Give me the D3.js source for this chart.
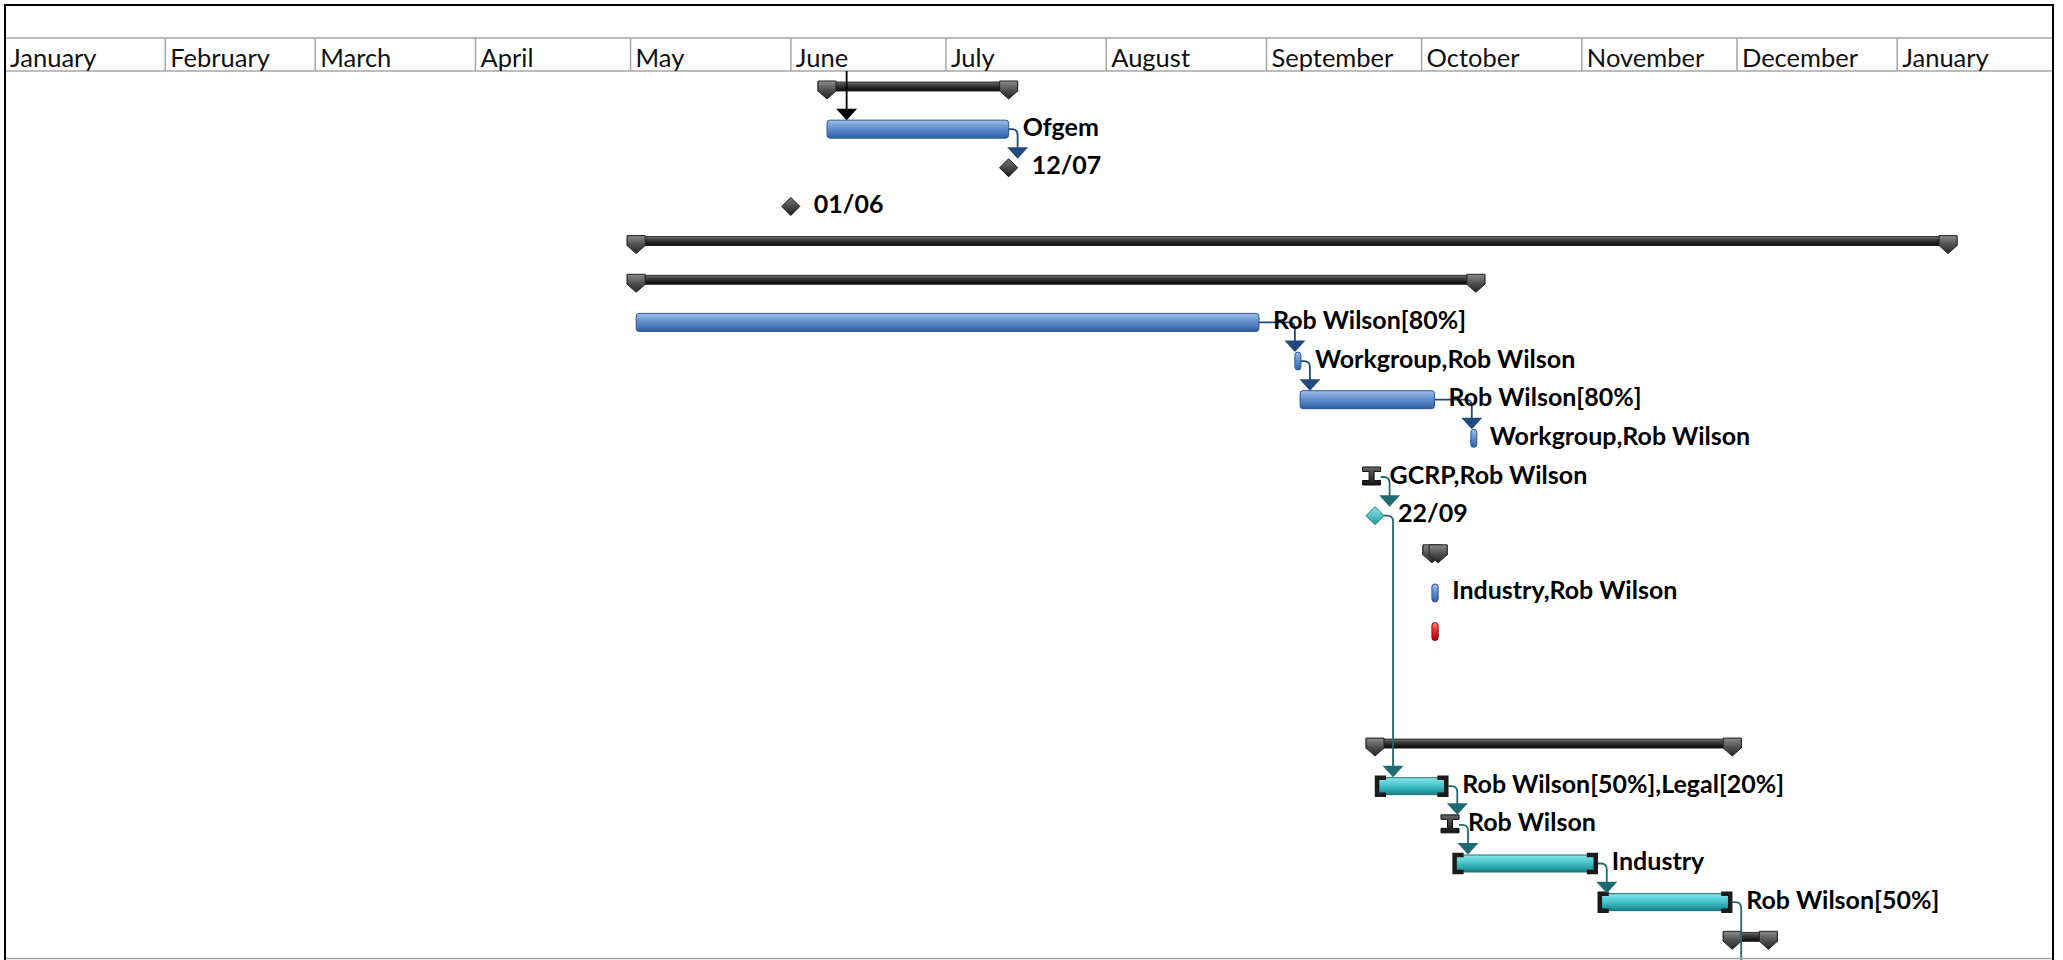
<!DOCTYPE html>
<html lang="en">
<head>
<meta charset="UTF-8">
<title>Project Gantt</title>
<script src="https://d3js.org/d3.v7.min.js"></script>
<style>
  body { margin: 0; background: #fff; }
  svg { display: block; }
  text { font-family: Lato, "Open Sans", sans-serif; }
</style>
</head>
<body>
<svg width="2063" height="960"></svg>
<script>
// month tier of the timescale (top tier is left blank)
const monthLabels = ["January","February","March","April","May","June","July","August",
                     "September","October","November","December","January"];
const monthStarts = ["2016-01-01","2016-02-01","2016-03-01","2016-04-01","2016-05-01","2016-06-01",
                     "2016-07-01","2016-08-01","2016-09-01","2016-10-01","2016-11-01","2016-12-01","2017-01-01"];

// one entry per row of the gantt
const taskKind  = ["summary","task","milestone","milestone","summary","summary","task","task","task","task",
                   "ibeam","milestone","summary","task","task",null,null,"summary","manual","ibeam","manual","manual","summary"];
const taskColor = [null,"blue","dark","dark",null,null,"blue","blue","blue","blue",
                   "teal","teal",null,"blue","red",null,null,null,"teal","teal","teal","teal",null];
const taskStart = ["2016-06-08T00:00","2016-06-08T00:00","2016-07-13T03:00","2016-06-01T00:00","2016-05-02T02:00",
                   "2016-05-02T02:00","2016-05-02T02:00","2016-09-06T12:00","2016-09-07T12:00","2016-10-10T17:00",
                   "2016-09-21T08:00","2016-09-22T00:00","2016-10-03T00:00","2016-10-03T00:00","2016-10-03T00:00",
                   null,null,"2016-09-22T00:00","2016-09-22T00:00","2016-10-06T12:00","2016-10-07T00:00",
                   "2016-11-04T02:00","2016-11-30T02:00"];
const taskEnd   = ["2016-07-13T03:00","2016-07-13T03:00","2016-07-13T03:00","2016-06-01T00:00","2017-01-10T20:00",
                   "2016-10-11T12:00","2016-08-30T13:00","2016-09-07T16:00","2016-10-03T12:00","2016-10-11T12:00",
                   "2016-09-21T08:00","2016-09-22T00:00","2016-10-04T05:00","2016-10-04T05:00","2016-10-04T05:00",
                   null,null,"2016-11-30T02:00","2016-10-06T04:00","2016-10-06T12:00","2016-11-04T02:00",
                   "2016-11-30T02:00","2016-12-07T02:00"];
const taskLabel = ["","Ofgem","12/07","01/06","","","Rob Wilson[80%]","Workgroup,Rob Wilson","Rob Wilson[80%]",
                   "Workgroup,Rob Wilson","GCRP,Rob Wilson","22/09","","Industry,Rob Wilson","","","","",
                   "Rob Wilson[50%],Legal[20%]","Rob Wilson","Industry","Rob Wilson[50%]",""];

// dependency links (row index -> row index, null = successor below the view)
const linkFrom = [1, 6, 7, 8, 10, 11, 18, 19, 20, 21];
const linkTo   = [2, 7, 8, 9, 11, 18, 19, 20, 21, null];
// predecessor above the view, arriving at row 1
const extLinkDate = "2016-06-11T19:00";
const extLinkTo = 1;

const W = 2063, H = 960;
const frameL = 5, frameR = 2053, frameT = 5;
const tierY = 38, headY = 71;
const rowH = 38.65;

const parse = d3.utcParse("%Y-%m-%dT%H:%M");
const parseDay = d3.utcParse("%Y-%m-%d");

const x = d3.scaleUtc()
  .domain([parseDay("2016-01-01"), parseDay("2017-01-01")])
  .range([frameL, frameL + 366 * 5.17]);

const y = d3.scaleBand()
  .domain(d3.range(taskKind.length))
  .range([headY + 1, headY + 1 + taskKind.length * rowH]);

const svg = d3.select("svg");
const defs = svg.append("defs");
function grad(id, stops) {
  const g = defs.append("linearGradient").attr("id", id)
    .attr("x1", 0).attr("y1", 0).attr("x2", 0).attr("y2", 1);
  stops.forEach(([o, c]) => g.append("stop").attr("offset", o).attr("stop-color", c));
}
grad("sumBar", [[0, "#7a7a7a"], [0.25, "#4a4a4a"], [0.6, "#262626"], [1, "#0a0a0a"]]);
grad("sumCap", [[0, "#8c8c8c"], [0.5, "#505050"], [1, "#262626"]]);
grad("blue", [[0, "#a2c1e8"], [0.4, "#6994d3"], [0.75, "#4677bb"], [1, "#2f5c9c"]]);
grad("teal", [[0, "#8ae5ea"], [0.35, "#55cfd5"], [0.7, "#2faab1"], [1, "#1b7f86"]]);
grad("red", [[0, "#ff8a8a"], [0.4, "#e23434"], [1, "#a80000"]]);
grad("dark", [[0, "#7a7a7a"], [1, "#1a1a1a"]]);
grad("tealMs", [[0, "#8ae6ea"], [1, "#2a9ca3"]]);
grad("ibeam", [[0, "#666"], [1, "#111"]]);

const linkColor = { blue: "#1f4a7e", teal: "#1b6b70", dark: "#1f4a7e", red: "#a00" };

// ---- header ----
svg.append("rect").attr("width", W).attr("height", H).attr("fill", "#fff");
const hdr = svg.append("g");
hdr.append("line").attr("x1", frameL).attr("x2", frameR).attr("y1", tierY).attr("y2", tierY)
  .attr("stroke", "#a6a6a6").attr("stroke-width", 1.5);
hdr.append("line").attr("x1", frameL).attr("x2", frameR).attr("y1", headY).attr("y2", headY)
  .attr("stroke", "#a6a6a6").attr("stroke-width", 1.5);
const months = monthStarts.map(parseDay);
hdr.selectAll(".msep").data(months).enter().append("line")
  .attr("x1", d => x(d)).attr("x2", d => x(d)).attr("y1", tierY).attr("y2", headY)
  .attr("stroke", "#a6a6a6").attr("stroke-width", 1.5);
hdr.selectAll(".mlab").data(months).enter().append("text")
  .attr("x", d => x(d) + 5).attr("y", 67)
  .attr("font-size", 25.5).attr("fill", "#111")
  .text((d, i) => monthLabels[i]);

// ---- bars ----
const bars = svg.append("g");
const links = svg.append("g").attr("fill", "none");
const labels = svg.append("g");

function geom(i) {
  const t = y(i), k = taskKind[i];
  const s = x(parse(taskStart[i])), e = x(parse(taskEnd[i]));
  const cy = t + 18.5;
  let rightX = e, succTop = t + 9.5, startX = s;
  if (k === "milestone") { rightX = s + 9; succTop = cy - 9; }
  if (k === "ibeam") { rightX = s + 9; succTop = t + 8.5; }
  return { t, cy, s, e, rightX, succTop, startX };
}

function cap(g, c, t) {
  g.append("path")
    .attr("d", `M${c - 9},${t + 9} L${c + 9},${t + 9} L${c + 9},${t + 19} L${c},${t + 27} L${c - 9},${t + 19} Z`)
    .attr("fill", "url(#sumCap)").attr("stroke", "#222").attr("stroke-width", 1);
}

taskKind.forEach((k, i) => {
  if (!k) return;
  const { t, cy, s, e } = geom(i);
  if (k === "summary") {
    bars.append("rect").attr("x", s - 9).attr("y", t + 10).attr("width", e - s + 18).attr("height", 9)
      .attr("fill", "url(#sumBar)").attr("stroke", "#111").attr("stroke-width", 0.8);
    cap(bars, s, t);
    cap(bars, e, t);
  } else if (k === "task") {
    let x0 = s, w = e - s;
    if (w < 6) { x0 = (s + e) / 2 - 3; w = 6; }
    bars.append("rect").attr("x", x0).attr("y", t + 9.5).attr("width", w).attr("height", 18)
      .attr("rx", 3).attr("fill", `url(#${taskColor[i]})`)
      .attr("stroke", taskColor[i] === "red" ? "#a00000" : "#2b5797").attr("stroke-width", 1);
  } else if (k === "manual") {
    bars.append("rect").attr("x", s + 2).attr("y", t + 10).attr("width", e - s - 4).attr("height", 17)
      .attr("rx", 2).attr("fill", "url(#teal)").attr("stroke", "#1a7378").attr("stroke-width", 1);
    bars.append("path")
      .attr("d", `M${s + 11},${t + 10} H${s + 2} V${t + 27} H${s + 11}`)
      .attr("fill", "none").attr("stroke", "#1b1b1b").attr("stroke-width", 4.5);
    bars.append("path")
      .attr("d", `M${e - 11},${t + 10} H${e - 2} V${t + 27} H${e - 11}`)
      .attr("fill", "none").attr("stroke", "#1b1b1b").attr("stroke-width", 4.5);
  } else if (k === "ibeam") {
    bars.append("path")
      .attr("d", `M${s - 9},${t + 8.5} H${s + 9} V${t + 13} H${s + 2.5} V${t + 22} H${s + 9} V${t + 26.5}` +
                 ` H${s - 9} V${t + 22} H${s - 2.5} V${t + 13} H${s - 9} Z`)
      .attr("fill", "url(#ibeam)").attr("stroke", "#111").attr("stroke-width", 1);
  } else if (k === "milestone") {
    bars.append("path")
      .attr("d", `M${s},${cy - 9} L${s + 9},${cy} L${s},${cy + 9} L${s - 9},${cy} Z`)
      .attr("fill", taskColor[i] === "teal" ? "url(#tealMs)" : "url(#dark)")
      .attr("stroke", taskColor[i] === "teal" ? "#1a7378" : "#111").attr("stroke-width", 1);
  }
});

// ---- links ----
function arrow(g, vx, ty, col) {
  g.append("path").attr("d", `M${vx - 10.5},${ty - 11.5} L${vx + 10.5},${ty - 11.5} L${vx},${ty} Z`)
    .attr("fill", col).attr("stroke", "none");
}
linkFrom.forEach((f, j) => {
  const p = geom(f);
  const col = linkColor[taskColor[f]];
  const px = p.rightX, py = p.cy;
  let vx = px + 9, ty = H;
  if (linkTo[j] !== null) {
    const q = geom(linkTo[j]);
    vx = Math.max(px + 9, q.startX);
    ty = q.succTop;
  }
  const r = 6;
  links.append("path")
    .attr("d", `M${px},${py} H${vx - r} Q${vx},${py} ${vx},${py + r} V${linkTo[j] !== null ? ty - 10 : ty}`)
    .attr("stroke", col).attr("stroke-width", 1.8);
  if (linkTo[j] !== null) arrow(links, vx, ty, col);
});
{
  const q = geom(extLinkTo);
  const ex = x(parse(extLinkDate));
  links.append("line").attr("x1", ex).attr("x2", ex).attr("y1", headY).attr("y2", q.succTop - 10)
    .attr("stroke", "#000").attr("stroke-width", 1.8);
  arrow(links, ex, q.succTop, "#000");
}

// ---- labels ----
taskLabel.forEach((l, i) => {
  if (!l) return;
  const g = geom(i);
  const lx = g.rightX + (taskKind[i] === "ibeam" ? 9 : 14);
  labels.append("text").attr("x", lx).attr("y", g.t + 25)
    .attr("font-size", 25).attr("font-weight", "bold").attr("fill", "#000")
    .text(l);
});

// ---- frame ----
const frame = svg.append("g").attr("fill", "none");
frame.append("line").attr("x1", frameL).attr("x2", frameR).attr("y1", H - 1.5).attr("y2", H - 1.5)
  .attr("stroke", "#a6a6a6").attr("stroke-width", 1.5);
frame.append("path").attr("d", `M${frameL},${H} V${frameT} H${frameR} V${H}`)
  .attr("stroke", "#000").attr("stroke-width", 2);
</script>
</body>
</html>
